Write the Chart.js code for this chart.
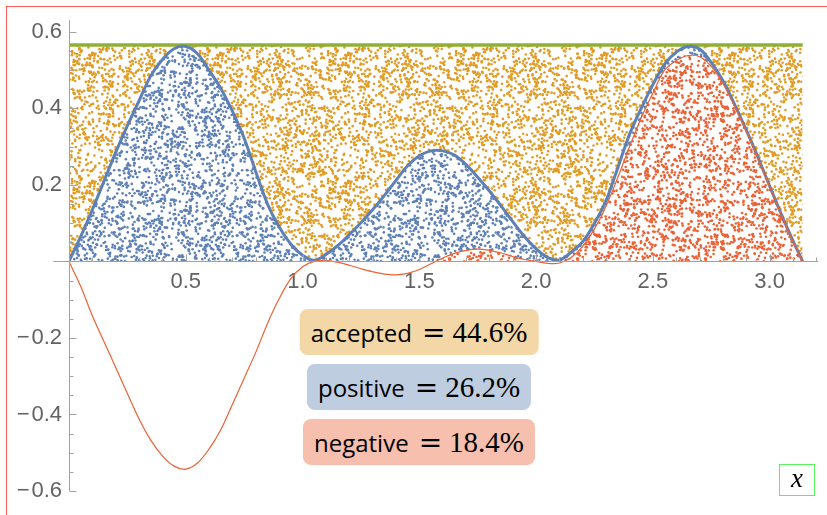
<!DOCTYPE html>
<html>
<head>
<meta charset="utf-8">
<script src="https://cdn.jsdelivr.net/npm/chart.js@4.4.1/dist/chart.umd.min.js"></script>
<style>
html,body{margin:0;padding:0;background:#fff;}
#wrap{position:relative;width:827px;height:515px;overflow:hidden;background:#fff;}
#frame{position:absolute;left:6px;top:6px;width:900px;height:600px;border:1px solid #ff5a5a;box-sizing:border-box;}
canvas{position:absolute;left:0;top:0;}
.tag{position:absolute;left:419px;height:46px;border-radius:8px;display:flex;align-items:center;transform:translateX(-50%);padding:0 11px;white-space:nowrap;color:#000;}
.word{font-family:'Open Sans',sans-serif;font-size:24px;}
.eq{font-family:'DejaVu Serif',serif;font-size:28px;margin:0 7px 0 10px;}
.num{font-family:'Liberation Serif',serif;font-size:29px;}
#xlab{position:absolute;left:779px;top:464px;width:36px;height:32px;border:1px solid #5cf25c;box-sizing:border-box;font-family:'Liberation Serif',serif;font-style:italic;font-size:27px;display:flex;align-items:center;justify-content:center;padding-bottom:3px;}
</style>
</head>
<body>
<div id="wrap">
  <div id="frame"></div>
  <canvas id="c" width="827" height="515"></canvas>
  <div id="tags"></div>
  <div id="xlab">x</div>
</div>
<script>
// ---- data ----
const xs = [0,0.05,0.10,0.15,0.20,0.25,0.30,0.35,0.40,0.45,0.50,0.55,0.60,0.65,0.70,0.75,0.80,0.85,0.90,0.95,
  1.00,1.05,1.10,1.15,1.20,1.25,1.30,1.35,1.40,1.45,1.50,1.55,1.60,1.65,1.70,1.75,1.80,1.85,1.90,1.95,
  2.00,2.05,2.10,2.15,2.20,2.25,2.30,2.35,2.40,2.45,2.50,2.55,2.60,2.65,2.70,2.75,2.80,2.85,2.90,2.95,
  3.00,3.05,3.10,3.1416];

// |f(x)|  (blue envelope)
const absValues = [0,0.065,0.135,0.21,0.285,0.355,0.42,0.485,0.528,0.556,0.562,0.543,0.499,0.452,0.392,0.322,0.234,0.15,0.09,0.045,
  0.016,0.003,0.018,0.041,0.07,0.101,0.135,0.172,0.212,0.25,0.276,0.289,0.289,0.278,0.253,0.22,0.184,0.145,0.104,0.065,
  0.033,0.01,0.004,0.024,0.052,0.1,0.16,0.245,0.332,0.40,0.462,0.515,0.547,0.562,0.555,0.52,0.472,0.41,0.343,0.272,
  0.197,0.123,0.054,0];

// f(x)  (red signed function)
const signedValues = [0,-0.065,-0.142,-0.21,-0.277,-0.345,-0.412,-0.467,-0.508,-0.535,-0.543,-0.527,-0.49,-0.44,-0.373,-0.305,-0.237,-0.162,-0.097,-0.045,
  -0.014,0.0,0.003,-0.002,-0.01,-0.019,-0.027,-0.033,-0.035,-0.031,-0.021,-0.006,0.009,0.021,0.029,0.032,0.029,0.022,0.013,0.005,
  0.0,-0.005,-0.004,0.01,0.04,0.085,0.145,0.22,0.30,0.375,0.44,0.50,0.525,0.538,0.535,0.51,0.465,0.406,0.341,0.27,
  0.196,0.122,0.053,0];

// sampling box: x from 0 to pi, y from 0 to the bound
const boxX = [0, 3.1416];
const boxBound = [0.566, 0.566];

const xTickValues = [0.5,1.0,1.5,2.0,2.5,3.0];
const xTickLabels = ['0.5','1.0','1.5','2.0','2.5','3.0'];
const yTickValues = [-0.6,-0.4,-0.2,0.2,0.4,0.6];
const yTickLabels = ['\u2212\u200A0.6','\u2212\u200A0.4','\u2212\u200A0.2','0.2','0.4','0.6'];
const xMinorTicks = [0.1,0.2,0.3,0.4,0.6,0.7,0.8,0.9,1.1,1.2,1.3,1.4,1.6,1.7,1.8,1.9,2.1,2.2,2.3,2.4,2.6,2.7,2.8,2.9,3.1,3.2];
const yMinorTicks = [-0.55,-0.5,-0.45,-0.35,-0.3,-0.25,-0.15,-0.1,-0.05,0.05,0.1,0.15,0.25,0.3,0.35,0.45,0.5,0.55];

const summaryNames = ['accepted','positive','negative'];
const summaryPercents = ['44.6%','26.2%','18.4%'];

// ---- styling ----
const C_ORANGE = '#e09c24', C_BLUE = '#5e81b5', C_RED = '#eb6235', C_GREEN = '#8fb032';
const TAG_BG = ['#f3d7a7','#bfcde1','#f7c0ae'];
const TAG_TOP = [309, 364, 419];
const AXIS_COLOR = '#a3a3a3';
const X_AXIS_SPAN = [-0.068, 3.207];
const Y_AXIS_SPAN = [-0.6, 0.6305];

// summary tags (HTML text)
const tagsDiv = document.getElementById('tags');
summaryNames.forEach((n, i) => {
  const d = document.createElement('div');
  d.className = 'tag';
  d.style.top = TAG_TOP[i] + 'px';
  d.style.background = TAG_BG[i];
  d.innerHTML = '<span class="word">' + n + '</span><span class="eq">=</span><span class="num">' + summaryPercents[i] + '</span>';
  tagsDiv.appendChild(d);
});

// stippled texture used as a fill style (visual texture only)
function texHash(n) {
  n = Math.imul(n ^ (n >>> 16), 0x45d9f3b);
  n = Math.imul(n ^ (n >>> 16), 0x45d9f3b);
  n ^= n >>> 16;
  return (n >>> 0) / 4294967296;
}
function dotPattern(ctx, color, seed, bg) {
  const size = 128, c = document.createElement('canvas');
  c.width = c.height = size;
  const g = c.getContext('2d');
  if (bg) { g.fillStyle = bg; g.fillRect(0, 0, size, size); }
  g.fillStyle = color;
  const count = 1100;
  for (let k = 0; k < count; k++) {
    const px = texHash(seed * 7919 + k * 2 + 1) * size;
    const py = texHash(seed * 104729 + k * 2 + 2) * size;
    for (const dx of [-size, 0, size]) for (const dy of [-size, 0, size]) {
      g.beginPath(); g.arc(px + dx, py + dy, 1.3, 0, Math.PI * 2); g.fill();
    }
  }
  return ctx.createPattern(c, 'repeat');
}

const canvas = document.getElementById('c');
const ctx2d = canvas.getContext('2d');
const patOrange = dotPattern(ctx2d, C_ORANGE, 11, null);
const patBlue = dotPattern(ctx2d, C_BLUE, 23, '#ffffff');
const patRed = dotPattern(ctx2d, C_RED, 37, '#ffffff');

const pts = (xa, ya) => xa.map((v, i) => ({x: v, y: ya[i]}));

const axesPlugin = {
  id: 'mmaAxes',
  afterDatasetsDraw(chart) {
    const {ctx, scales: {x, y}} = chart;
    const yy = Math.round(y.getPixelForValue(0)) + 0.5;
    const xx = Math.round(x.getPixelForValue(0)) + 0.5;
    ctx.save();
    ctx.strokeStyle = AXIS_COLOR;
    ctx.lineWidth = 1;
    ctx.beginPath();
    ctx.moveTo(x.getPixelForValue(X_AXIS_SPAN[0]), yy);
    ctx.lineTo(x.getPixelForValue(X_AXIS_SPAN[1]), yy);
    ctx.moveTo(xx, y.getPixelForValue(Y_AXIS_SPAN[0]));
    ctx.lineTo(xx, y.getPixelForValue(Y_AXIS_SPAN[1]));
    xTickValues.forEach(v => { const p = Math.round(x.getPixelForValue(v)) + 0.5; ctx.moveTo(p, yy); ctx.lineTo(p, yy - 7); });
    xMinorTicks.forEach(v => { const p = Math.round(x.getPixelForValue(v)) + 0.5; ctx.moveTo(p, yy); ctx.lineTo(p, yy - 4); });
    yTickValues.forEach(v => { const p = Math.round(y.getPixelForValue(v)) + 0.5; ctx.moveTo(xx, p); ctx.lineTo(xx + 7, p); });
    yMinorTicks.forEach(v => { const p = Math.round(y.getPixelForValue(v)) + 0.5; ctx.moveTo(xx, p); ctx.lineTo(xx + 4, p); });
    ctx.stroke();
    ctx.restore();
  }
};

const curveStyle = { pointRadius: 0, tension: 0.35, cubicInterpolationMode: 'default' };

new Chart(canvas, {
  type: 'line',
  data: {
    datasets: [
      Object.assign({ label: 'red curve', data: pts(xs, signedValues), borderColor: C_RED, borderWidth: 1.2, fill: false, order: 1 }, curveStyle),
      Object.assign({ label: 'blue curve', data: pts(xs, absValues), borderColor: C_BLUE, borderWidth: 3, fill: false, order: 2 }, curveStyle),
      Object.assign({ label: 'negative', data: pts(xs, signedValues), borderWidth: 0, borderColor: 'rgba(0,0,0,0)',
        fill: {target: 'origin', above: patRed, below: 'rgba(0,0,0,0)'}, order: 3 }, curveStyle),
      Object.assign({ label: 'positive', data: pts(xs, absValues), borderWidth: 0, borderColor: 'rgba(0,0,0,0)',
        fill: {target: 'origin', above: patBlue, below: 'rgba(0,0,0,0)'}, order: 4 }, curveStyle),
      { label: 'box', data: pts(boxX, boxBound), borderColor: C_GREEN, borderWidth: 3.5, pointRadius: 0,
        fill: {target: 'origin', above: patOrange, below: 'rgba(0,0,0,0)'}, order: 5 }
    ]
  },
  options: {
    responsive: false,
    animation: false,
    devicePixelRatio: 1,
    layout: { padding: { left: 0, right: 9, top: 18, bottom: 24 } },
    plugins: { legend: { display: false }, tooltip: { enabled: false } },
    scales: {
      x: {
        type: 'linear', position: { y: 0 }, min: 0, max: X_AXIS_SPAN[1],
        afterBuildTicks: s => { s.ticks = xTickValues.map(v => ({value: v})); },
        grid: { display: false, drawTicks: false }, border: { display: false },
        ticks: { autoSkip: false, maxRotation: 0, padding: 7, color: '#626262', font: { family: 'Liberation Sans', size: 22 },
          callback: (v, i) => xTickLabels[i] }
      },
      y: {
        type: 'linear', position: 'left', min: Y_AXIS_SPAN[0], max: Y_AXIS_SPAN[1],
        afterFit: s => { s.width = 69; },
        afterBuildTicks: s => { s.ticks = yTickValues.map(v => ({value: v})); },
        grid: { display: false, drawTicks: false }, border: { display: false },
        ticks: { autoSkip: false, padding: 7, color: '#626262', font: { family: 'Liberation Sans', size: 22 },
          callback: (v, i) => yTickLabels[i] }
      }
    }
  },
  plugins: [axesPlugin]
});
</script>
</body>
</html>
